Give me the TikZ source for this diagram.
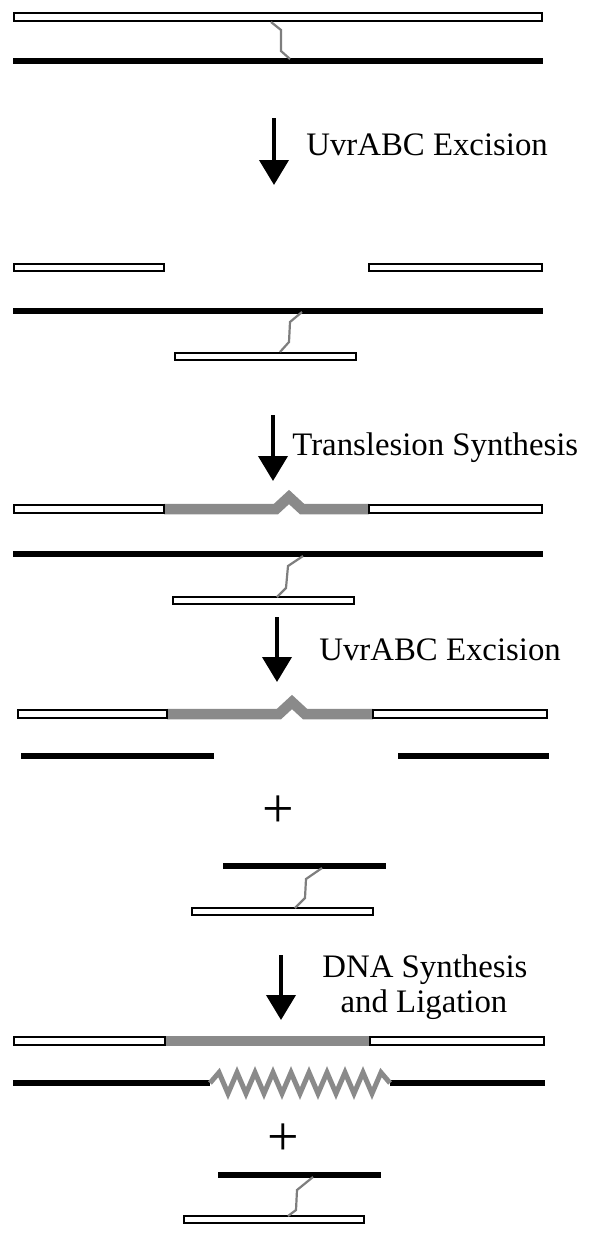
\documentclass[tikz,border=0pt]{standalone}
\usepackage{fontspec}
\setmainfont{Liberation Serif}
\usetikzlibrary{arrows.meta}
\definecolor{dnagray}{HTML}{8A8A8A}
\definecolor{linkgray}{HTML}{7E7E7E}
\tikzset{
  wbox/.style={draw=black, fill=white, line width=1.25pt},
  bstrand/.style={draw=black, line width=2.75pt},
  gstrand/.style={draw=dnagray, line width=5.25pt, miter limit=10},
  xlink/.style={draw=linkgray, line width=1.1pt},
  zigline/.style={draw=dnagray, line width=2.5pt},
  steparrow/.style={draw=black, line width=2pt, -{Triangle[width=14.5pt,length=12.5pt]}},
  steplabel/.style={inner sep=0pt, font=\fontsize{16.4}{19}\selectfont},
  plussign/.style={inner sep=0pt, font=\fontsize{28}{30}\selectfont},
}
\begin{document}
\begin{tikzpicture}[x=0.5pt, y=-0.5pt]
\useasboundingbox (0,0) rectangle (600,1239);

% ---------- Row 1 ----------
\draw[wbox] (14,13) rectangle (542,21);
\draw[bstrand] (13,61) -- (543,61);
\coordinate (c1a) at (271,22); \coordinate (c1b) at (290,59);
\draw[xlink] (c1a) -- (281,30) -- (281,51) -- (c1b);

% arrow 1
\coordinate (a1s) at (274,118); \coordinate (a1e) at (274,185);
\draw[steparrow] (a1s) -- (a1e);
\node[steplabel, anchor=base west] (t1) at (306,155) {UvrABC Excision};

% ---------- Row 2 ----------
\draw[wbox] (14,264) rectangle (164,271);
\draw[wbox] (369,264) rectangle (542,271);
\draw[bstrand] (13,311) -- (543,311);
\draw[wbox] (175,353) rectangle (356,360);
\coordinate (c2a) at (302,312); \coordinate (c2b) at (280,352);
\draw[xlink] (c2a) -- (290,322) -- (289,342) -- (c2b);

% arrow 2
\coordinate (a2s) at (273,415); \coordinate (a2e) at (273,481);
\draw[steparrow] (a2s) -- (a2e);
\node[steplabel, anchor=base west] (t2) at (292,455) {Translesion Synthesis};

% ---------- Row 3 ----------
\draw[gstrand] (164,509) -- (276,509) -- (289,497) -- (302,509) -- (369,509);
\draw[wbox] (14,505) rectangle (164,513);
\draw[wbox] (369,505) rectangle (542,513);
\draw[bstrand] (13,554) -- (543,554);
\draw[wbox] (173,597) rectangle (354,604);
\coordinate (c3a) at (303,556); \coordinate (c3b) at (277,597);
\draw[xlink] (c3a) -- (288,566) -- (286,588) -- (c3b);

% arrow 3
\coordinate (a3s) at (277,617); \coordinate (a3e) at (277,682);
\draw[steparrow] (a3s) -- (a3e);
\node[steplabel, anchor=base west] (t3) at (319,660) {UvrABC Excision};

% ---------- Row 4 ----------
\draw[gstrand] (167,714) -- (279,714) -- (292,702) -- (305,714) -- (373,714);
\draw[wbox] (18,710) rectangle (167,718);
\draw[wbox] (373,710) rectangle (547,718);
\draw[bstrand] (21,756) -- (214,756);
\draw[bstrand] (398,756) -- (549,756);
\node[plussign] (p1) at (278,812) {+};
\draw[bstrand] (223,866) -- (386,866);
\draw[wbox] (192,908) rectangle (373,915);
\coordinate (c4a) at (322,868); \coordinate (c4b) at (295,908);
\draw[xlink] (c4a) -- (306,879) -- (305,898) -- (c4b);

% arrow 4
\coordinate (a4s) at (281,955); \coordinate (a4e) at (281,1020);
\draw[steparrow] (a4s) -- (a4e);
\node[steplabel, anchor=base] (t4a) at (425,977) {DNA Synthesis};
\node[steplabel, anchor=base] (t4b) at (424,1012) {and Ligation};

% ---------- Row 5 ----------
\draw[gstrand] (165,1041) -- (370,1041);
\draw[wbox] (14,1037) rectangle (165,1045);
\draw[wbox] (370,1037) rectangle (544,1045);
\coordinate (z0) at (210,1083); \coordinate (z1) at (390,1083);
\draw[bstrand] (13,1083) -- (z0);
\draw[bstrand] (z1) -- (545,1083);
\draw[zigline, line join=miter] (z0) \foreach \i in {1,...,19}{ -- ({210+9*\i},{1083+10.5*cos(180*\i)}) } -- (z1);
\node[plussign] (p2) at (283,1140) {+};
\draw[bstrand] (218,1175) -- (381,1175);
\draw[wbox] (184,1216) rectangle (364,1223);
\coordinate (c5a) at (313,1177); \coordinate (c5b) at (288,1216);
\draw[xlink] (c5a) -- (297,1190) -- (296,1210) -- (c5b);
\end{tikzpicture}
\end{document}
